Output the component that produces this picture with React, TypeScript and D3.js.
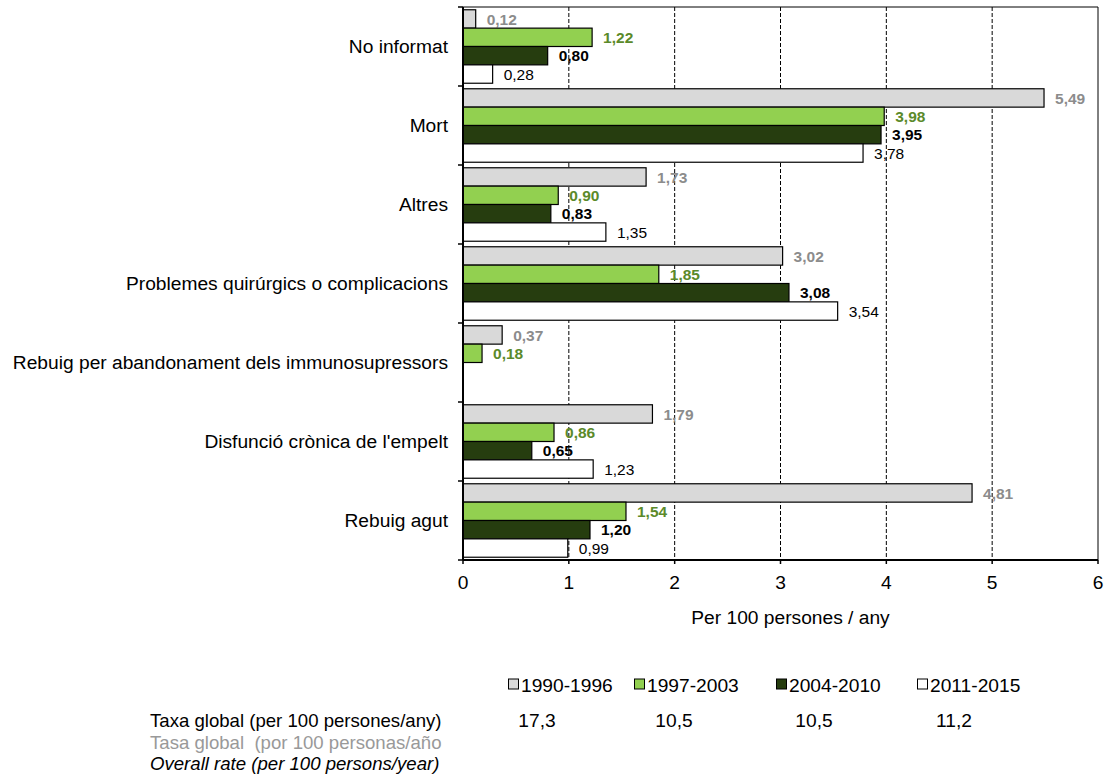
import React from "react";
import * as d3 from "d3";

const categories = [
  "No informat",
  "Mort",
  "Altres",
  "Problemes quirúrgics o complicacions",
  "Rebuig per abandonament dels immunosupressors",
  "Disfunció crònica de l'empelt",
  "Rebuig agut",
];
const seriesNames = ["1990-1996", "1997-2003", "2004-2010", "2011-2015"];
const s1990: (number | null)[] = [0.12, 5.49, 1.73, 3.02, 0.37, 1.79, 4.81];
const s1997: (number | null)[] = [1.22, 3.98, 0.9, 1.85, 0.18, 0.86, 1.54];
const s2004: (number | null)[] = [0.8, 3.95, 0.83, 3.08, null, 0.65, 1.2];
const s2011: (number | null)[] = [0.28, 3.78, 1.35, 3.54, null, 1.23, 0.99];
const globalRates = ["17,3", "10,5", "10,5", "11,2"];
const xTicks = [0, 1, 2, 3, 4, 5, 6];

const fills = ["#d9d9d9", "#92d050", "#263d0f", "#ffffff"];
const labelColors = ["#8c8c8c", "#5b8a2a", "#000000", "#000000"];
const labelWeights = ["bold", "bold", "bold", "normal"];

const W = 1111;
const H = 778;
const left = 463;
const right = 1098;
const top = 7;
const bottom = 560;
const font = "'Liberation Sans', Arial, sans-serif";
const FS = 19.2;

function T(props: {
  x: number;
  y: number;
  anchor?: string;
  size?: number;
  weight?: string;
  fill?: string;
  italic?: boolean;
  dy?: string;
  children: React.ReactNode;
}) {
  const { x, y, anchor = "start", size = FS, weight = "normal", fill = "#000", italic, dy } = props;
  return (
    <text
      x={x}
      y={y}
      textAnchor={anchor}
      fontSize={size}
      fontWeight={weight}
      fill={fill}
      fontStyle={italic ? "italic" : "normal"}
      dy={dy}
      style={{ whiteSpace: "pre" }}
    >
      {props.children}
    </text>
  );
}

export default function App() {
  const allSeries = [s1990, s1997, s2004, s2011];
  const x = d3.scaleLinear().domain([0, 6]).range([left, right]);
  const y = d3.scaleBand<string>().domain(categories).range([top, bottom]).paddingInner(0.07).paddingOuter(0.035);
  const inner = d3.scaleBand<number>().domain([0, 1, 2, 3]).range([0, y.bandwidth()]).padding(0);
  const fmt = (v: number) => v.toFixed(2).replace(".", ",");
  const step = (bottom - top) / categories.length;
  const boundaries = d3.range(categories.length + 1).map((i) => top + i * step);

  const legendX = [509, 635, 777, 918];
  const rateX = [537, 674, 814, 954];

  return (
    <div style={{ position: "absolute", left: 0, top: 0 }}>
      <svg width={W} height={H} style={{ display: "block", fontFamily: font }}>
        <rect x={0} y={0} width={W} height={H} fill="#fff" />
        {xTicks.slice(1, -1).map((t) => (
          <line key={t} x1={x(t)} x2={x(t)} y1={top} y2={bottom} stroke="#000" strokeWidth={1} strokeDasharray="4,2" />
        ))}
        <line x1={left} x2={right} y1={top} y2={top} stroke="#000" strokeWidth={1} />
        <line x1={right} x2={right} y1={top} y2={bottom} stroke="#000" strokeWidth={1} />
        {categories.map((c, ci) =>
          allSeries.map((s, si) => {
            const v = s[ci];
            if (v == null) return null;
            const by = (y(c) as number) + (inner(si) as number);
            const bh = inner.bandwidth();
            return (
              <g key={c + si}>
                <rect x={x(0)} y={by} width={x(v) - x(0)} height={bh} fill={fills[si]} stroke="#000" strokeWidth={1.2} />
                <T x={x(v) + 11} y={by + bh / 2} dy="0.36em" size={15.5} weight={labelWeights[si]} fill={labelColors[si]}>
                  {fmt(v)}
                </T>
              </g>
            );
          })
        )}
        <line x1={left} x2={left} y1={top} y2={bottom} stroke="#000" strokeWidth={2} />
        <line x1={left} x2={right} y1={bottom} y2={bottom} stroke="#000" strokeWidth={2} />
        {boundaries.map((b, i) => (
          <line key={"yt" + i} x1={left - 5} x2={left} y1={b} y2={b} stroke="#000" strokeWidth={1.5} />
        ))}
        {xTicks.map((t) => (
          <g key={"xt" + t}>
            <line x1={x(t)} x2={x(t)} y1={bottom} y2={bottom + 4} stroke="#000" strokeWidth={1.5} />
            <T x={x(t)} y={589} anchor="middle">
              {t}
            </T>
          </g>
        ))}
        {categories.map((c) => (
          <T key={c} x={448} y={(y(c) as number) + y.bandwidth() / 2} dy="0.36em" anchor="end">
            {c}
          </T>
        ))}
        <T x={(left + right) / 2 + 10} y={624} anchor="middle">
          Per 100 persones / any
        </T>
        {seriesNames.map((n, i) => (
          <g key={n}>
            <rect x={legendX[i] - 0.5} y={679} width={10} height={10} fill={fills[i]} stroke="#000" strokeWidth={1} />
            <T x={legendX[i] + 12} y={692}>
              {n}
            </T>
          </g>
        ))}
        {globalRates.map((r, i) => (
          <T key={"r" + i} x={rateX[i]} y={727} anchor="middle">
            {r}
          </T>
        ))}
        <T x={150} y={727} size={18.6}>Taxa global (per 100 persones/any)</T>
        <T x={150} y={749} size={18.6} fill="#999">Tasa global  (por 100 personas/año</T>
        <T x={150} y={770} size={18.6} italic>Overall rate (per 100 persons/year)</T>
      </svg>
    </div>
  );
}
